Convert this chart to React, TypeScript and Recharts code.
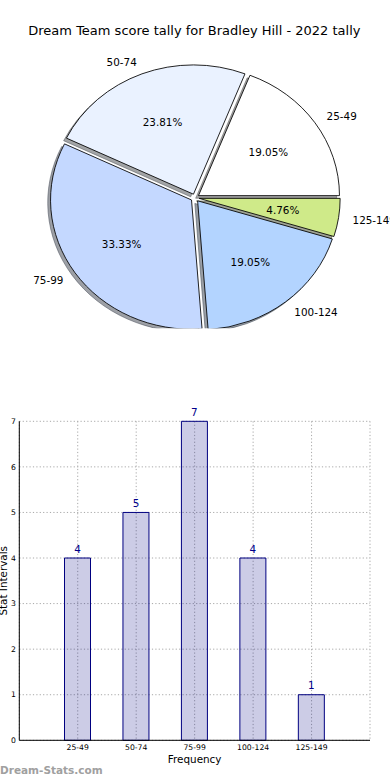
import React from 'react';
import { PieChart, Pie, BarChart, Bar, XAxis, YAxis, CartesianGrid, LabelList } from 'recharts';

// ---- data ----
const categories = ['25-49', '50-74', '75-99', '100-124', '125-149'];
const counts = [4, 5, 7, 4, 1];
const sliceColors = ['#ffffff', '#eaf2ff', '#c4d8ff', '#b3d4ff', '#cfea89'];
const yTicks = [0, 1, 2, 3, 4, 5, 6, 7];
const titleText = 'Dream Team score tally for Bradley Hill - 2022 tally';
const xLabel = 'Frequency';
const yLabel = 'Stat Intervals';
const watermark = 'Dream-Stats.com';

// ---- layout / style ----
const FONT = '"DejaVu Sans", Verdana, sans-serif';
const PIE_CX = 195;
const PIE_CY = 197.8;
const R = 141;
const SY = 0.917; // matplotlib axes were not equal-aspect: pie is an ellipse
const EXPLODE = 4.2;
const SHADOW_DX = -2.8;
const SHADOW_DY = 2.6;

const total = counts.reduce((a, b) => a + b, 0);

const slices = categories.map((name, i) => {
  const before = counts.slice(0, i).reduce((a, b) => a + b, 0);
  const a0 = (before / total) * 360;
  const a1 = ((before + counts[i]) / total) * 360;
  const mid = (((a0 + a1) / 2) * Math.PI) / 180;
  return { name, value: counts[i], a0, a1, cos: Math.cos(mid), sin: Math.sin(mid), color: sliceColors[i] };
});

function shadowColor(hex: string) {
  const n = parseInt(hex.slice(1), 16);
  const r = Math.round(((n >> 16) & 255) * 0.3);
  const g = Math.round(((n >> 8) & 255) * 0.3);
  const b = Math.round((n & 255) * 0.3);
  return `rgb(${r},${g},${b})`;
}

const barData = categories.map((c, i) => ({ cat: c, v: counts[i] }));

const renderPieLabel = (props: any) => {
  const { cx, cy, midAngle, outerRadius, percent, name } = props;
  const rad = (midAngle * Math.PI) / 180;
  const c = Math.cos(rad);
  const s = Math.sin(rad);
  const lx = cx + 1.1 * outerRadius * c;
  const ly = cy - 1.1 * outerRadius * SY * s;
  const px = cx + 0.6 * outerRadius * c;
  const py = cy - 0.6 * outerRadius * SY * s;
  return (
    <g>
      <text x={lx} y={ly + 0.5} dy="0.365em" textAnchor={c >= 0 ? 'start' : 'end'} fontSize={10.4} fill="#000" style={{ fontFamily: FONT }}>
        {name}
      </text>
      <text x={px} y={py + 0.3} dy="0.365em" textAnchor="middle" fontSize={10.4} fill="#000" style={{ fontFamily: FONT }}>
        {(percent * 100).toFixed(2) + '%'}
      </text>
    </g>
  );
};

export default function App() {
  return (
    <div style={{ position: 'absolute', left: 0, top: 0, width: 390, height: 780, background: '#fff', fontFamily: FONT, overflow: 'hidden' }}>
      <svg width={390} height={50} style={{ position: 'absolute', left: 0, top: 0 }}>
        <text x={194.4} y={34.6} textAnchor="middle" fontSize={13} fill="#000" style={{ fontFamily: FONT }}>
          {titleText}
        </text>
      </svg>

      {/* wedges (scaled vertically to an ellipse) */}
      <div
        style={{
          position: 'absolute',
          left: 0,
          top: 0,
          width: 390,
          height: 340,
          transform: `scaleY(${SY})`,
          transformOrigin: `${PIE_CX}px ${PIE_CY}px`,
        }}
      >
        <PieChart width={390} height={340} margin={{ top: 0, right: 0, bottom: 0, left: 0 }}>
          {slices.map((s, i) => (
            <Pie
              key={'sh' + i}
              data={[{ name: s.name, value: s.value }]}
              dataKey="value"
              nameKey="name"
              cx={PIE_CX + EXPLODE * s.cos + SHADOW_DX}
              cy={PIE_CY - EXPLODE * s.sin + SHADOW_DY / SY}
              outerRadius={R}
              startAngle={s.a0}
              endAngle={s.a1}
              fill={shadowColor(s.color)}
              fillOpacity={0.5}
              stroke={shadowColor(s.color)}
              strokeOpacity={0.5}
              strokeWidth={1}
              label={false}
              labelLine={false}
              isAnimationActive={false}
            />
          ))}
          {slices.map((s, i) => (
            <Pie
              key={'w' + i}
              data={[{ name: s.name, value: s.value }]}
              dataKey="value"
              nameKey="name"
              cx={PIE_CX + EXPLODE * s.cos}
              cy={PIE_CY - EXPLODE * s.sin}
              outerRadius={R}
              startAngle={s.a0}
              endAngle={s.a1}
              fill={s.color}
              stroke="#000"
              strokeWidth={0.9}
              label={false}
              labelLine={false}
              isAnimationActive={false}
            />
          ))}
        </PieChart>
      </div>

      {/* labels (unscaled) */}
      <div style={{ position: 'absolute', left: 0, top: 0, width: 390, height: 340 }}>
        <PieChart width={390} height={340} margin={{ top: 0, right: 0, bottom: 0, left: 0 }}>
          {slices.map((s, i) => (
            <Pie
              key={'l' + i}
              data={[{ name: s.name, value: s.value }]}
              dataKey="value"
              nameKey="name"
              cx={PIE_CX + EXPLODE * s.cos}
              cy={PIE_CY - EXPLODE * SY * s.sin}
              outerRadius={R}
              startAngle={s.a0}
              endAngle={s.a1}
              fill="none"
              stroke="none"
              label={(p: any) => renderPieLabel({ ...p, percent: s.value / total })}
              labelLine={false}
              isAnimationActive={false}
            />
          ))}
        </PieChart>
      </div>

      {/* bar chart */}
      <div style={{ position: 'absolute', left: 0, top: 400, width: 390, height: 380 }}>
        <BarChart width={390} height={380} data={barData} margin={{ top: 21.3, right: 20, bottom: 0, left: 0 }}>
          <CartesianGrid stroke="#a8a8a8" strokeDasharray="1.2 2.2" />
          <XAxis
            dataKey="cat"
            height={39.7}
            padding={{ left: 29.2, right: 29.2 }}
            tickSize={0}
            tickMargin={4}
            tickLine={false}
            interval={0}
            tick={{ fontSize: 7.7, fill: '#000' }}
            axisLine={{ stroke: '#000', strokeWidth: 1 }}
            label={{ value: xLabel, position: 'insideBottom', offset: 16.7, fontSize: 10.4, fill: '#000' }}
          />
          <XAxis xAxisId="top" dataKey="cat" orientation="top" height={0} tick={false} tickLine={false} axisLine={{ stroke: '#000', strokeWidth: 1 }} />
          <YAxis
            type="number"
            domain={[0, 7]}
            ticks={yTicks}
            width={19.3}
            tickSize={0}
            tickMargin={3.5}
            tickLine={false}
            tick={{ fontSize: 7.7, fill: '#000' }}
            axisLine={{ stroke: '#000', strokeWidth: 1 }}
            label={{ value: yLabel, angle: -90, position: 'insideLeft', offset: 3.8, fontSize: 10.4, fill: '#000', style: { textAnchor: 'middle' } }}
          />
          <YAxis yAxisId="right" orientation="right" width={0} tick={false} tickLine={false} axisLine={{ stroke: '#000', strokeWidth: 1 }} />
          <Bar dataKey="v" barSize={26} fill="#000080" fillOpacity={0.2} stroke="#000080" strokeWidth={1} isAnimationActive={false}>
            <LabelList dataKey="v" position="top" offset={5.5} fill="#00008b" fontSize={10.4} />
          </Bar>
        </BarChart>
      </div>

      <svg width={390} height={30} style={{ position: 'absolute', left: 0, top: 750 }}>
        <text x={0} y={23.5} fontSize={10.5} fontWeight="bold" fill="#a0a0a0" style={{ fontFamily: FONT }}>
          {watermark}
        </text>
      </svg>
    </div>
  );
}
